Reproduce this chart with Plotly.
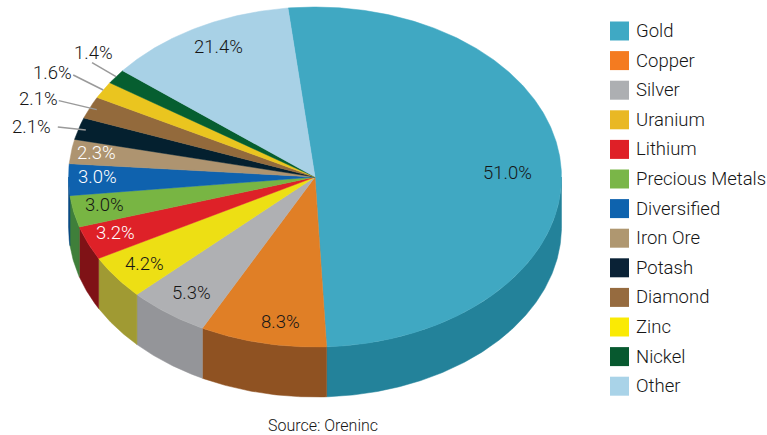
import math
import plotly.graph_objects as go

# ---- data ----
slice_names = ["Gold", "Copper", "Silver", "Zinc", "Lithium", "Precious Metals", "Diversified",
               "Iron Ore", "Potash", "Diamond", "Uranium", "Nickel", "Other"]
# drawn share of each slice (the "Other" wedge is drawn far smaller than its printed label)
slice_shares = [51.0, 8.3, 5.3, 4.2, 3.2, 3.0, 3.0, 2.3, 2.1, 2.1, 1.6, 1.4, 12.5]
slice_labels = ["51.0%", "8.3%", "5.3%", "4.2%", "3.2%", "3.0%", "3.0%",
                "2.3%", "2.1%", "2.1%", "1.6%", "1.4%", "21.4%"]
legend_names = ["Gold", "Copper", "Silver", "Uranium", "Lithium", "Precious Metals", "Diversified",
                "Iron Ore", "Potash", "Diamond", "Zinc", "Nickel", "Other"]
source_text = "Source: Oreninc"

# ---- styles ----
top_colors = dict(zip(slice_names, ["#40A8C2", "#E07F26", "#AFB0B3", "#EDDF14", "#DE2128", "#78B543", "#0F62AE",
                                    "#AE9470", "#04202F", "#936A3C", "#EAC51F", "#065E30", "#A8D1E6"]))
wall_colors = dict(zip(slice_names, ["#23829A", "#8F5222", "#949599", "#A09A33", "#7F1216", "#3F7F3A", "#0B4A83",
                                     "#7F6B50", "#04202F", "#6A4C2B", "#A98F16", "#054020", "#7897A6"]))
legend_colors = dict(zip(legend_names, ["#3FA9C4", "#F47B20", "#ADAFB2", "#E9B824", "#DF2027", "#7AB648", "#0E63AE",
                                        "#AF9770", "#0A2236", "#966B3F", "#FAEA04", "#07592F", "#A9D3E8"]))
label_colors = {"Lithium": "white", "Diversified": "white", "Iron Ore": "white"}
FONT = "Roboto"
TEXT = "#161616"

# ---- geometry in pixel-space axes ----
W, H = 767, 435
CX, CY, RX, RY, DEPTH, START = 315, 177, 246.5, 170, 50, -6.3
# inside labels: pixel nudge from the 0.85-radius point
inside_nudge = {"Gold": (-16, 7), "Copper": (10, 4), "Silver": (2, 0), "Zinc": (-1, 2), "Lithium": (-6, 0),
                "Precious Metals": (-5, -1), "Diversified": (-8, -2), "Iron Ore": (-11, -2), "Other": (4, -3)}
# outside labels: radius fraction of leader start, leader end offset, label offset
outside = {"Potash": (0.97, (-28, -3), (-54, -3)), "Diamond": (0.97, (-38, -9), (-58, -11)),
           "Uranium": (1.0, (-30, -15), (-51, -17)), "Nickel": (1.0, (-24, -14), (-23, -24))}


def pt(t, f=1.0):
    r = math.radians(t)
    return CX + RX * f * math.sin(r), CY - RY * f * math.cos(r)


def arc(t0, t1):
    n = max(2, int(abs(t1 - t0) / 0.5) + 1)
    return [t0 + (t1 - t0) * i / (n - 1) for i in range(n)]


total = sum(slice_shares)
angles = [START]
for v in slice_shares:
    angles.append(angles[-1] + v / total * 360)

fig = go.Figure()

# side walls (visible between 90 and 270 degrees)
for name, t0, t1 in zip(slice_names, angles[:-1], angles[1:]):
    a, b = max(t0, 90), min(t1, 270)
    if a >= b:
        continue
    ts = arc(a, b)
    top = [pt(t) for t in ts]
    xs = [p[0] for p in top] + [p[0] for p in reversed(top)] + [top[0][0]]
    ys = [p[1] for p in top] + [p[1] + DEPTH for p in reversed(top)] + [top[0][1]]
    fig.add_trace(go.Scatter(x=xs, y=ys, mode="lines", fill="toself", fillcolor=wall_colors[name],
                             line=dict(color=wall_colors[name], width=0.5), hoverinfo="skip", showlegend=False))

# top faces
for name, t0, t1 in zip(slice_names, angles[:-1], angles[1:]):
    edge = [pt(t) for t in arc(t0, t1)]
    xs = [CX] + [p[0] for p in edge] + [CX]
    ys = [CY] + [p[1] for p in edge] + [CY]
    fig.add_trace(go.Scatter(x=xs, y=ys, mode="lines", fill="toself", fillcolor=top_colors[name],
                             line=dict(color=top_colors[name], width=0.5), name=name,
                             hoverinfo="name", showlegend=False))

# slice labels and leader lines
annotations = []
for name, lab, t0, t1 in zip(slice_names, slice_labels, angles[:-1], angles[1:]):
    mid = (t0 + t1) / 2
    if name in outside:
        f, lead, off = outside[name]
        x0, y0 = pt(mid, f)
        fig.add_trace(go.Scatter(x=[x0, x0 + lead[0]], y=[y0, y0 + lead[1]], mode="lines",
                                 line=dict(color="#9A9A9A", width=1.5), hoverinfo="skip", showlegend=False))
        lx, ly = x0 + off[0], y0 + off[1]
    else:
        x0, y0 = pt(mid, 0.85)
        nudge = inside_nudge[name]
        lx, ly = x0 + nudge[0], y0 + nudge[1]
    annotations.append(dict(x=lx, y=ly, text=lab, showarrow=False, xanchor="center", yanchor="middle",
                            font=dict(family=FONT, size=18.5, weight=300, color=label_colors.get(name, TEXT))))

# legend swatches + text
LEG_X, LEG_TOP, LEG_STEP = 619.5, 31, 29.6
leg_y = [LEG_TOP + i * LEG_STEP for i in range(len(legend_names))]
fig.add_trace(go.Scatter(x=[LEG_X] * len(legend_names), y=leg_y, mode="markers",
                         marker=dict(symbol="square", size=19, color=[legend_colors[n] for n in legend_names]),
                         hoverinfo="skip", showlegend=False))
for n, y in zip(legend_names, leg_y):
    annotations.append(dict(x=634, y=y, text=n, showarrow=False, xanchor="left", yanchor="middle",
                            font=dict(family=FONT, size=18.5, weight=300, color=TEXT)))
annotations.append(dict(x=323, y=425, text=source_text, showarrow=False, xanchor="center", yanchor="middle",
                        font=dict(family=FONT, size=16, weight=300, color=TEXT)))

fig.update_layout(width=W, height=H, margin=dict(l=0, r=0, t=0, b=0), paper_bgcolor="white",
                  plot_bgcolor="white", showlegend=False, annotations=annotations,
                  xaxis=dict(range=[0, W], visible=False, fixedrange=True),
                  yaxis=dict(range=[H, 0], visible=False, fixedrange=True))
fig.write_html("out.html", config={"displayModeBar": False},
               post_script="document.body.style.margin='0';")
